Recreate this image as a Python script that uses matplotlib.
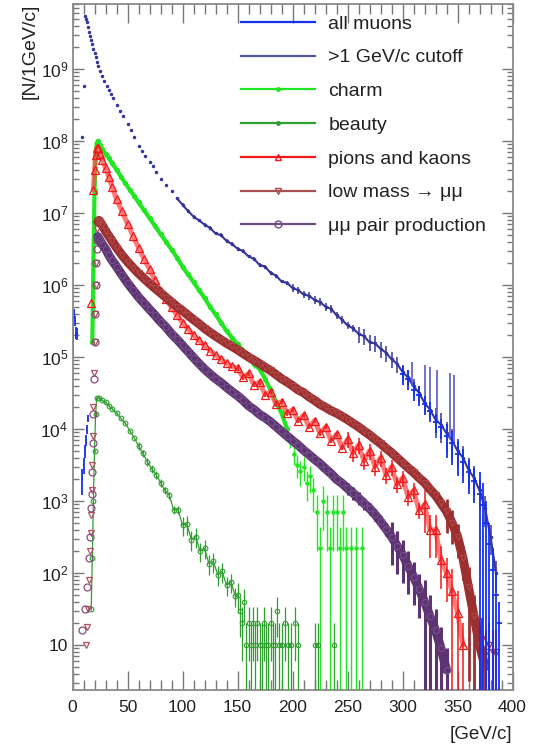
import numpy as np
import matplotlib
matplotlib.use('Agg')
import matplotlib.pyplot as plt
from matplotlib.lines import Line2D
from matplotlib.ticker import FixedLocator, FuncFormatter, MultipleLocator, LogLocator, NullFormatter

plt.rcParams['font.family'] = ['Liberation Sans', 'DejaVu Sans']
plt.rcParams['mathtext.fontset'] = 'custom'
plt.rcParams['mathtext.rm'] = 'Liberation Sans'
plt.rcParams['mathtext.it'] = 'Liberation Sans:italic'

# ---- data (x in GeV/c, y in N per 1 GeV/c) ----
labels = ['all muons', '>1 GeV/c cutoff', 'charm', 'beauty',
          'pions and kaons', 'low mass \u2192 \u03bc\u03bc', '\u03bc\u03bc pair production']

# all muons, low momentum part and high momentum tail
am_low_x = [0.5, 1.5, 2.5, 3.5, 4.5, 9, 10, 11, 12, 13, 14]
am_low_y = [2.8e5, 4e5, 3.2e5, 2.2e5, 2.1e5, 2.0e3, 3.2e3, 5e3, 7e3, 1.0e4, 1.4e4]
am_low_err = [1.8e5, 0.6e5, 0.5e5, 0.4e5, 0.4e5, 0.8e3, 0.8e3, 1e3, 1.2e3, 1.5e3, 1.5e3]
am_tail_x = [300, 305, 310, 315, 320, 325, 330, 335, 340, 345, 350, 355, 360, 365, 370,
             373, 376, 379, 382, 385, 388]
am_tail_y = [5.8e4, 5.0e4, 3.5e4, 3.0e4, 2.2e4, 1.8e4, 1.26e4, 1.05e4, 7.9e3, 6.3e3, 4.5e3,
             3.5e3, 2.5e3, 1.9e3, 1.26e3, 8.9e2, 5e2, 2.5e2, 1.1e2, 50, 20]
am_tail_zones = [(300, 340, 0.3), (340, 370, 0.5), (370, 400, 1.0)]

# >1 GeV/c cutoff
cut_x = [9, 10, 11, 12, 13, 14, 15, 16, 17, 18, 19, 20, 21, 22, 23, 25, 27, 29, 31, 33, 35, 37,
         40, 43, 46, 50, 53, 56, 60, 63, 66, 70, 73, 76, 80, 85, 90, 95] + list(range(100, 390, 5))
cut_y = [1.15e8, 5.8e8, 5.5e9, 5.0e9, 4.5e9, 3.8e9, 3.3e9, 2.9e9, 2.5e9, 2.2e9, 1.9e9, 1.66e9,
         1.45e9, 1.26e9, 1.1e9, 9.3e8, 7.9e8, 6.8e8, 5.9e8, 5.1e8, 4.5e8, 3.9e8, 3.2e8, 2.6e8,
         2.2e8, 1.74e8, 1.4e8, 1.15e8, 8.5e7, 7.2e7, 6.2e7, 5.1e7, 4.5e7, 3.7e7, 3.0e7, 2.45e7,
         2.0e7, 1.6e7,
         1.3e7, 1.07e7, 8.9e6, 7.9e6, 6.9e6, 6.2e6, 5.2e6, 4.9e6, 4.1e6, 3.7e6, 3.2e6, 2.95e6,
         2.5e6, 2.3e6, 1.9e6, 1.8e6, 1.48e6, 1.35e6, 1.12e6, 1.07e6, 9.1e5, 8.5e5, 7.4e5, 7.1e5,
         6.2e5, 5.8e5, 5.0e5, 4.7e5, 3.8e5, 3.3e5, 2.75e5, 2.5e5, 2.1e5, 1.95e5, 1.6e5, 1.55e5,
         1.3e5, 1.15e5, 9.3e4, 8.1e4, 6.2e4, 5.2e4, 3.9e4, 3.2e4, 2.3e4, 1.86e4, 1.35e4, 1.15e4,
         8.7e3, 6.9e3, 5.0e3, 4.0e3, 2.7e3, 2.1e3, 1.4e3, 8e2, 3.2e2, 1e2]
cut_zones = [(100, 200, 0.06), (200, 260, 0.12), (260, 330, 0.25), (330, 400, 0.45)]
spike_x = [309, 320, 325, 331, 343, 347]
spike_lo = [4.0e4, 2.2e4, 1.8e4, 1.3e4, 7.6e3, 6.0e3]
spike_hi = [8.5e4, 7.8e4, 7.2e4, 6.6e4, 6.0e4, 5.6e4]

# charm
charm_x = [18, 19, 20, 21, 22, 23, 25, 27, 30, 33, 36, 40, 44, 48, 52, 56, 60, 65, 70, 75, 80,
           85, 90, 95, 100, 105, 110, 115, 120, 125, 130, 135, 140, 145, 150, 155, 160, 165,
           170, 175, 180, 185, 190, 195]
charm_y = [1.6e5, 2e6, 2e7, 6.3e7, 9.3e7, 1e8, 8.9e7, 7.8e7, 6.6e7, 5.8e7, 4.9e7, 4.0e7, 3.2e7,
           2.6e7, 2.1e7, 1.74e7, 1.4e7, 1.1e7, 8.5e6, 6.6e6, 5.1e6, 4.0e6, 3.1e6, 2.4e6, 1.8e6,
           1.4e6, 1.1e6, 8.5e5, 6.6e5, 5.0e5, 3.9e5, 3.0e5, 2.3e5, 1.86e5, 1.5e5, 1.23e5, 1.0e5,
           8.1e4, 6.8e4, 5.0e4, 3.5e4, 2.4e4, 1.66e4, 1.0e4]
charm_zones = [(150, 200, 0.12)]
charm_tail_x = [198, 201, 204, 207, 210, 213, 216, 219, 222, 225, 228, 231, 234, 237, 240, 243,
                246, 249, 253, 258, 263]
charm_tail_y = [7000, 4500, 3200, 2600, 3000, 1800, 2200, 1400, 700, 220, 1000, 700, 220, 700,
                700, 220, 700, 220, 220, 220, 220]
charm_tail_err = [1500, 1300, 1100, 1000, 1100, 800, 900, 700, 500, 220, 600, 500, 220, 500,
                  500, 220, 500, 220, 220, 220, 220]

# beauty
beauty_x = [17, 18, 19, 20, 21, 22, 24, 27, 30, 33, 36, 40, 44, 48, 52, 56, 60, 64, 68, 72, 76,
            80, 84, 88, 92, 96, 100, 104, 108, 112, 116, 120, 124, 128, 132, 136, 140, 144, 148]
beauty_y = [32, 160, 1000, 5000, 1.6e4, 2.7e4, 2.7e4, 2.5e4, 2.35e4, 2.1e4, 1.9e4, 1.66e4,
            1.4e4, 1.2e4, 9.5e3, 7.6e3, 5.8e3, 4.6e3, 3.5e3, 2.8e3, 2.3e3, 1.8e3, 1.4e3, 1.2e3,
            750, 760, 460, 480, 290, 320, 200, 220, 135, 145, 95, 105, 68, 75, 48]
beauty_zones = [(0, 60, 0.03), (60, 100, 0.12), (100, 150, 0.3)]
beauty_tail_x = [150, 152, 154, 156, 158, 160, 162, 164, 166, 168, 170, 172, 174, 176, 178, 180,
                 182, 184, 186, 188, 190, 193, 196, 199, 202, 205, 220, 223, 238]
beauty_tail_y = [50, 30, 20, 40, 10, 20, 10, 20, 10, 20, 10, 10, 20, 10, 10, 20, 10, 10, 30, 10,
                 10, 20, 10, 10, 20, 10, 10, 10, 10]
beauty_tail_err = [22, 17, 14, 20, 10, 14, 10, 14, 10, 14, 10, 10, 14, 10, 10, 14, 10, 10, 17,
                   10, 10, 14, 10, 10, 14, 10, 10, 10, 10]

# pions and kaons
pik_x = [17, 19, 20, 21, 22, 23, 25, 27, 30, 33, 36, 40] + list(range(45, 360, 5))
pik_y = [5.6e5, 2.1e7, 4.0e7, 6.3e7, 7.9e7, 7.9e7, 6.6e7, 5.5e7, 4.2e7, 3.2e7, 2.3e7, 1.55e7,
         1.05e7, 7.1e6, 4.8e6, 3.3e6, 2.3e6, 1.66e6, 1.17e6, 8.3e5, 6.3e5, 4.9e5, 3.8e5, 3.0e5,
         2.45e5, 2.0e5, 1.7e5, 1.45e5, 1.23e5, 1.07e5, 9.3e4, 8.3e4, 7.4e4, 7.0e4, 5.2e4, 5.9e4,
         4.1e4, 4.5e4, 3.0e4, 3.3e4, 2.2e4, 2.4e4, 1.66e4, 1.86e4, 1.3e4, 1.55e4, 1.07e4, 1.3e4,
         8.7e3, 1.07e4, 6.9e3, 8.5e3, 5.5e3, 7.2e3, 4.6e3, 6.0e3, 3.6e3, 5.0e3, 3.0e3, 4.0e3,
         2.3e3, 3.0e3, 1.7e3, 2.1e3, 1.15e3, 1.4e3, 7.4e2, 9e2, 4e2, 4e2, 1.5e2, 1e2, 56, 28, 10]
pik_zones = [(150, 250, 0.08), (250, 320, 0.25), (320, 345, 0.6), (345, 400, 1.0)]

# low mass -> mu mu
lm_rise_x = [12, 13, 14, 15, 16, 16.5, 17, 17.5, 18, 18.5, 19, 19.5, 20, 20.5, 21, 21.5, 22,
             22.5]
lm_rise_y = [10, 18, 32, 80, 200, 360, 630, 1.4e3, 3.2e3, 8e3, 2e4, 6e4, 1.6e5, 4e5, 1e6, 2e6,
             4e6, 6e6]
lm_x = [23, 24, 25, 27, 30, 33, 36] + list(range(40, 380, 5))
lm_y = [7.6e6, 7.9e6, 7.6e6, 6.8e6, 5.6e6, 4.8e6, 4.1e6, 3.3e6, 2.6e6, 2.1e6, 1.74e6, 1.45e6,
        1.23e6, 1.05e6, 9.0e5, 7.8e5, 6.7e5, 5.8e5, 5.0e5, 4.4e5, 3.8e5, 3.3e5, 2.9e5, 2.5e5,
        2.2e5, 1.95e5, 1.74e5, 1.55e5, 1.4e5, 1.26e5, 1.12e5, 1.0e5, 9.0e4, 8.1e4, 7.2e4, 6.5e4,
        5.7e4, 5.0e4, 4.5e4, 4.0e4, 3.5e4, 3.2e4, 2.8e4, 2.5e4, 2.2e4, 2.0e4, 1.8e4, 1.66e4,
        1.5e4, 1.35e4, 1.2e4, 1.07e4, 9.4e3, 8.3e3, 7.2e3, 6.3e3, 5.4e3, 4.7e3, 4.0e3, 3.4e3,
        2.9e3, 2.5e3, 2.1e3, 1.8e3, 1.45e3, 1.2e3, 9.3e2, 7.2e2, 5.0e2, 3.2e2, 1.6e2, 63, 25,
        10, 5]
lm_zones = [(300, 340, 0.12), (340, 360, 0.5), (360, 400, 0.95)]
lm_tail_x = [372, 376, 379, 382, 385]
lm_tail_y = [12, 8, 10, 8, 8]

# mu mu pair production
mm_rise_x = [9, 11, 13, 15, 16, 17, 17.5, 18, 18.5, 19, 19.5, 20, 20.5, 21, 21.5, 22, 22.5]
mm_rise_y = [16, 32, 63, 160, 320, 800, 1.26e3, 2.5e3, 6.3e3, 1.6e4, 5e4, 1.6e5, 4e5, 1e6,
             2e6, 3.2e6, 4.2e6]
mm_x = [23, 25, 27, 30, 33, 36] + list(range(40, 345, 5))
mm_y = [4.7e6, 4.2e6, 3.7e6, 3.2e6, 2.6e6, 2.2e6, 1.8e6, 1.38e6, 1.07e6, 8.5e5, 6.8e5, 5.6e5,
        4.6e5, 3.8e5, 3.1e5, 2.6e5, 2.1e5, 1.76e5, 1.45e5, 1.19e5, 9.8e4, 8.1e4, 6.8e4, 5.8e4,
        5.0e4, 4.4e4, 3.8e4, 3.3e4, 2.9e4, 2.5e4, 2.1e4, 1.86e4, 1.6e4, 1.43e4, 1.26e4, 1.08e4,
        9.3e3, 8.0e3, 6.9e3, 6.0e3, 5.1e3, 4.4e3, 3.8e3, 3.3e3, 2.8e3, 2.4e3, 2.0e3, 1.76e3,
        1.5e3, 1.29e3, 1.1e3, 9.3e2, 7.9e2, 6.5e2, 5.2e2, 4.1e2, 3.2e2, 2.4e2, 1.8e2, 1.26e2,
        89, 60, 40, 25, 16, 9, 4.5]
mm_zones = [(250, 290, 0.2), (290, 320, 0.6), (320, 400, 1.0)]

c_all = '#1530f0'
c_cut = '#35359a'
c_charm = '#22e622'
c_beauty = '#2f9f2f'
c_pik = '#f01818'
c_lm = '#9c3030'
c_mm = '#5e3372'


def both_err(y, err):
    y = np.asarray(y, float)
    err = np.asarray(err, float)
    low = np.where(err >= y, y * 0.9999, err)
    return np.vstack([low, err])


def zone_err(x, y, zones):
    x = np.asarray(x, float)
    y = np.asarray(y, float)
    err = np.zeros_like(y)
    for lo, hi, f in zones:
        m = (x >= lo) & (x < hi)
        err[m] = f * y[m]
    return both_err(y, err)


fig = plt.figure(figsize=(5.39, 7.49), dpi=100)
ax = fig.add_axes([72.5 / 539, 59 / 749, 440 / 539, 686 / 749])
ax.set_yscale('log')

# all muons
ax.errorbar(am_low_x, am_low_y, yerr=both_err(am_low_y, am_low_err), xerr=0.5,
            fmt='none', ecolor=c_all, elinewidth=1.3, zorder=2)

# >1 GeV/c cutoff
cx = np.array(cut_x, float)
cy = np.array(cut_y, float)
ax.plot(cx, cy, ls='none', marker='o', ms=1.5, color=c_cut, zorder=2)
m = cx >= 95
ax.plot(cx[m], cy[m], color=c_cut, lw=1.5, zorder=2)
ax.errorbar(cx[m], cy[m], yerr=zone_err(cx[m], cy[m], cut_zones), fmt='none',
            ecolor=c_cut, elinewidth=1.1, zorder=2)
ax.vlines(spike_x, spike_lo, spike_hi, color='#5a5ac0', lw=1.2, zorder=2)

# charm
ax.plot(charm_x, charm_y, color=c_charm, lw=3.0, zorder=3)
ax.errorbar(charm_x, charm_y, yerr=zone_err(charm_x, charm_y, charm_zones), fmt='o', ms=2.8,
            color=c_charm, elinewidth=1.0, zorder=3)
ax.errorbar(charm_tail_x, charm_tail_y, yerr=both_err(charm_tail_y, charm_tail_err), xerr=1.5,
            fmt='o', ms=2.2, color=c_charm, elinewidth=1.0, zorder=3)

# beauty
ax.plot(beauty_x, beauty_y, color=c_beauty, lw=0.9, zorder=3)
ax.errorbar(beauty_x, beauty_y, yerr=zone_err(beauty_x, beauty_y, beauty_zones), fmt='o',
            ms=3.4, mfc='none', mew=0.8, color=c_beauty, elinewidth=0.9, zorder=3)
ax.errorbar(beauty_tail_x, beauty_tail_y, yerr=both_err(beauty_tail_y, beauty_tail_err),
            fmt='o', ms=3.2, mfc='none', mew=0.8, color=c_beauty, elinewidth=0.9, zorder=3)

# pions and kaons
ax.plot(pik_x[1:], pik_y[1:], color='#ff4a4a', lw=3.5, alpha=0.75, zorder=4)
ax.errorbar(pik_x, pik_y, yerr=zone_err(pik_x, pik_y, pik_zones), fmt='^', ms=5.5,
            mfc='none', mew=0.9, color=c_pik, elinewidth=1.1, zorder=4)

# low mass -> mu mu
ax.plot(lm_rise_x, lm_rise_y, ls='none', marker='v', ms=5, mfc='none', mew=0.9,
        color='#b05060', zorder=5)
ax.errorbar(lm_x, lm_y, yerr=zone_err(lm_x, lm_y, lm_zones), fmt='none', ecolor=c_lm,
            elinewidth=2.0, zorder=5)
ax.plot(lm_x, lm_y, color=c_lm, lw=6.5, marker='v', ms=4.5, mfc='none', mew=0.8,
        mec='#b04848', solid_capstyle='round', zorder=5)
ax.errorbar(lm_tail_x, lm_tail_y, yerr=both_err(lm_tail_y, lm_tail_y), fmt='v', ms=5,
            mfc='none', mew=0.9, color=c_lm, elinewidth=1.5, zorder=5)

# mu mu pair production
ax.plot(mm_rise_x, mm_rise_y, ls='none', marker='o', ms=5, mfc='none', mew=0.9,
        color='#8a4a7a', zorder=6)
ax.errorbar(mm_x, mm_y, yerr=zone_err(mm_x, mm_y, mm_zones), fmt='none', ecolor=c_mm,
            elinewidth=2.2, zorder=6)
ax.plot(mm_x, mm_y, color=c_mm, lw=6.5, marker='o', ms=4.5, mfc='none', mew=0.8,
        mec='#74508a', solid_capstyle='round', zorder=6)

# all muons tail on top
ax.errorbar(am_tail_x, am_tail_y, yerr=zone_err(am_tail_x, am_tail_y, am_tail_zones),
            xerr=2.5, fmt='none', ecolor=c_all, elinewidth=1.3, zorder=7)

# axes
ax.set_xlim(0, 400)
ax.set_ylim(2.37, 8.0e9)
ax.xaxis.set_major_locator(MultipleLocator(50))
ax.xaxis.set_minor_locator(MultipleLocator(10))
ax.yaxis.set_major_locator(FixedLocator([10.0 ** k for k in range(1, 10)]))
ax.yaxis.set_minor_locator(LogLocator(base=10, subs=np.arange(2, 10)))
ax.yaxis.set_minor_formatter(NullFormatter())
ax.yaxis.set_major_formatter(FuncFormatter(
    lambda v, p: '10' if round(np.log10(v)) == 1 else '$10^{%d}$' % round(np.log10(v))))

ax.tick_params(which='both', direction='in', top=True, right=True, colors='#777777',
               labelcolor='#222222', labelsize=12.5)
ax.tick_params(axis='x', which='major', length=14, width=1.0, pad=7)
ax.tick_params(axis='x', which='minor', length=7, width=1.0)
ax.tick_params(axis='y', which='major', length=8, width=1.0, pad=3)
ax.tick_params(axis='y', which='minor', length=4, width=1.0)
for s in ax.spines.values():
    s.set_color('#8a8a8a')
    s.set_linewidth(1.3)

ax.set_ylabel('[N/1GeV/c]', loc='top', fontsize=14, color='#222222')
ax.yaxis.set_label_coords(-0.077, 1.0)
ax.set_xlabel('[GeV/c]', loc='right', fontsize=13.5, color='#222222')
ax.xaxis.set_label_coords(1.0, -0.053)

handles = [
    Line2D([], [], color=c_all, lw=1.6),
    Line2D([], [], color='#5555a8', lw=1.6),
    Line2D([], [], color=c_charm, lw=1.6, marker='o', ms=2.5),
    Line2D([], [], color=c_beauty, lw=1.6, marker='o', ms=2.5),
    Line2D([], [], color=c_pik, lw=1.6, marker='^', ms=5, mfc='none'),
    Line2D([], [], color='#a65050', lw=1.6, marker='v', ms=5, mfc='none'),
    Line2D([], [], color='#6e4e80', lw=1.6, marker='o', ms=5, mfc='none'),
]
leg = fig.legend(handles, labels, loc='upper left', bbox_to_anchor=(241 / 539, 1 - 15 / 749),
                 frameon=False, fontsize=14, handlelength=3.8, handletextpad=0.7,
                 labelspacing=0.83, borderpad=0, borderaxespad=0)
for t in leg.get_texts():
    t.set_color('#222222')

fig.savefig('out.png', dpi=100)
